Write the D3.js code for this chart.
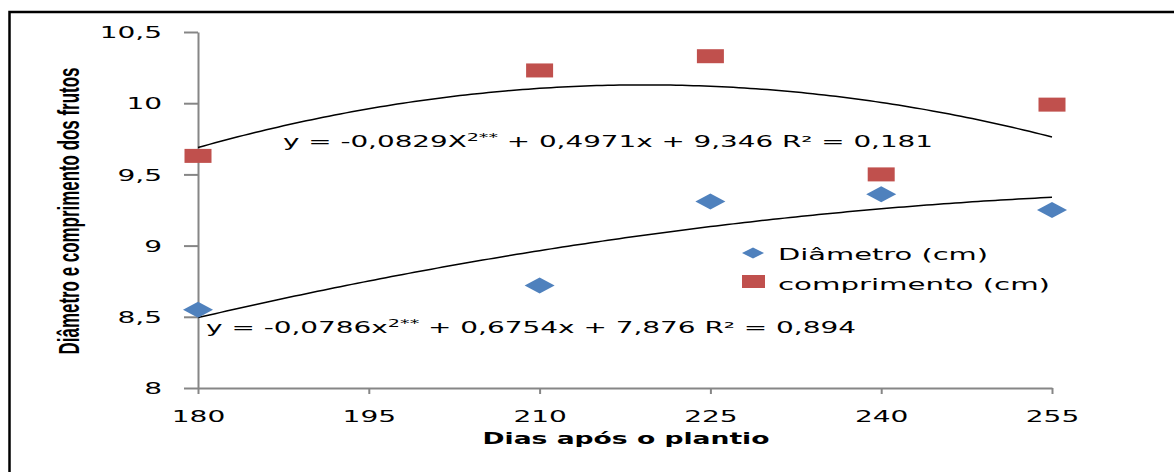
<!DOCTYPE html>
<html>
<head>
<meta charset="utf-8">
<script src="https://cdn.jsdelivr.net/npm/d3@7"></script>
<style>
  html, body { margin: 0; padding: 0; background: #fff; }
  svg { display: block; }
</style>
</head>
<body>
<svg id="chart" width="1174" height="472"></svg>
<script>
// Days after planting and measured fruit size (cm)
const days = [180, 210, 225, 240, 255];
const diametro = [8.55, 8.72, 9.31, 9.36, 9.25];
const comprimento = [9.63, 10.23, 10.33, 9.50, 9.99];

// Axis ticks
const xTicks = [180, 195, 210, 225, 240, 255];
const yTicks = [8, 8.5, 9, 9.5, 10, 10.5];
const yTickLabels = ["8", "8,5", "9", "9,5", "10", "10,5"];

// Legend entries and regression captions
const seriesNames = ["Diâmetro (cm)", "comprimento (cm)"];
const eqComprimento = ["y = -0,0829X", "2**", " + 0,4971x + 9,346 R² = 0,181"];
const eqDiametro = ["y = -0,0786x", "2**", " + 0,6754x + 7,876 R² = 0,894"];

const axisTitleX = "Dias  após o plantio";
const axisTitleY = "Diâmetro e comprimento dos frutos";

const BLUE = "#4F81BD", RED = "#C0504D", AXIS = "#868686";
const FONT = "'DejaVu Sans', Verdana, sans-serif";

const svg = d3.select("#chart");

// Outer frame
svg.append("rect")
  .attr("x", 9.5).attr("y", 12)
  .attr("width", 1400).attr("height", 700)
  .attr("fill", "none").attr("stroke", "#000").attr("stroke-width", 2.5);

const x = d3.scaleLinear().domain([180, 255]).range([198, 1052]);
const y = d3.scaleLinear().domain([8, 10.5]).range([388, 32]);

// Widen text horizontally by a factor (glyphs and spacing together)
function widen(sel, factor) {
  sel.each(function () {
    const w = this.getComputedTextLength();
    d3.select(this).attr("textLength", w * factor).attr("lengthAdjust", "spacingAndGlyphs");
  });
}
function fitWidth(sel, w) {
  sel.attr("textLength", w).attr("lengthAdjust", "spacingAndGlyphs");
}

// Y axis
const gy = svg.append("g").attr("transform", `translate(${x(180)},0)`)
  .call(d3.axisLeft(y).tickValues(yTicks).tickSize(14).tickSizeOuter(0)
    .tickFormat((d, i) => yTickLabels[i]));
gy.select(".domain").attr("stroke", AXIS).attr("stroke-width", 2);
gy.selectAll(".tick line").attr("stroke", AXIS).attr("stroke-width", 2);
gy.selectAll(".tick text")
  .attr("x", -36).attr("dy", "0.36em")
  .attr("fill", "#000").style("font-family", FONT).style("font-size", "16px")
  .call(widen, 1.75);

// X axis
const gx = svg.append("g").attr("transform", `translate(0,${y(8)})`)
  .call(d3.axisBottom(x).tickValues(xTicks).tickSize(6).tickSizeOuter(0)
    .tickFormat(d3.format("d")));
gx.select(".domain").attr("stroke", AXIS).attr("stroke-width", 2);
gx.selectAll(".tick line").attr("stroke", AXIS).attr("stroke-width", 2);
gx.selectAll(".tick text")
  .attr("y", 34).attr("dy", 0)
  .attr("fill", "#000").style("font-family", FONT).style("font-size", "16px")
  .call(widen, 1.75);

// Axis titles
svg.append("text")
  .attr("x", 626).attr("y", 444).attr("text-anchor", "middle")
  .style("font-family", FONT).style("font-size", "16px").style("font-weight", "bold")
  .text(axisTitleX).call(fitWidth, 287);

// Vertical title: tall, condensed lettering
const yTitle = svg.append("text")
  .attr("text-anchor", "middle")
  .style("font-family", "'Liberation Sans', Arial, sans-serif")
  .style("font-size", "30px").style("font-weight", "bold")
  .text(axisTitleY);
const squeeze = 287 / yTitle.node().getComputedTextLength();
yTitle.attr("transform", `translate(79,211) rotate(-90) scale(${squeeze},1)`);

// Least-squares quadratic trend (y = a + b t + c t^2) in days
function quadFit(xs, ys) {
  const m = d3.mean(xs);
  const t = xs.map(v => (v - m) / 15);
  const s = [0, 0, 0, 0, 0], r = [0, 0, 0];
  t.forEach((ti, i) => {
    for (let k = 0; k < 5; k++) s[k] += Math.pow(ti, k);
    for (let k = 0; k < 3; k++) r[k] += Math.pow(ti, k) * ys[i];
  });
  const A = [[s[0], s[1], s[2]], [s[1], s[2], s[3]], [s[2], s[3], s[4]]];
  const det = M => M[0][0] * (M[1][1] * M[2][2] - M[1][2] * M[2][1])
    - M[0][1] * (M[1][0] * M[2][2] - M[1][2] * M[2][0])
    + M[0][2] * (M[1][0] * M[2][1] - M[1][1] * M[2][0]);
  const D = det(A);
  const coef = [0, 1, 2].map(j => det(A.map((row, i) => row.map((v, k) => k === j ? r[i] : v))) / D);
  return d => { const u = (d - m) / 15; return coef[0] + coef[1] * u + coef[2] * u * u; };
}

const line = d3.line().x(d => x(d[0])).y(d => y(d[1]));
const curveDays = d3.range(180, 255.01, 0.5);
[comprimento, diametro].forEach(vals => {
  const f = quadFit(days, vals);
  svg.append("path")
    .attr("d", line(curveDays.map(d => [d, f(d)])))
    .attr("fill", "none").attr("stroke", "#000").attr("stroke-width", 1.5);
});

// Markers
const diamond = (w, h) => `M${-w / 2},0L0,${-h / 2}L${w / 2},0L0,${h / 2}Z`;
svg.append("g").selectAll("path").data(days).join("path")
  .attr("transform", (d, i) => `translate(${x(d)},${y(diametro[i])})`)
  .attr("d", diamond(30, 16)).attr("fill", BLUE);
svg.append("g").selectAll("rect").data(days).join("rect")
  .attr("x", d => x(d) - 13.5).attr("y", (d, i) => y(comprimento[i]) - 7)
  .attr("width", 27).attr("height", 14).attr("fill", RED);

// Regression captions
function caption(parts, px, py, w) {
  const t = svg.append("text").attr("x", px).attr("y", py)
    .style("font-family", FONT).style("font-size", "16px").attr("fill", "#000");
  t.append("tspan").text(parts[0]);
  t.append("tspan").attr("dy", -6).style("font-size", "11px").text(parts[1]);
  t.append("tspan").attr("dy", 6).text(parts[2]);
  t.call(fitWidth, w);
}
caption(eqComprimento, 283, 147, 650);
caption(eqDiametro, 206, 333, 650);

// Legend
const lg = svg.append("g");
lg.append("path").attr("transform", "translate(753,253)").attr("d", diamond(22, 11)).attr("fill", BLUE);
lg.append("rect").attr("x", 742).attr("y", 275).attr("width", 23).attr("height", 13).attr("fill", RED);
lg.append("text").attr("x", 778).attr("y", 260)
  .style("font-family", FONT).style("font-size", "16px").text(seriesNames[0]).call(fitWidth, 210);
lg.append("text").attr("x", 778).attr("y", 290)
  .style("font-family", FONT).style("font-size", "16px").text(seriesNames[1]).call(fitWidth, 272);
</script>
</body>
</html>
